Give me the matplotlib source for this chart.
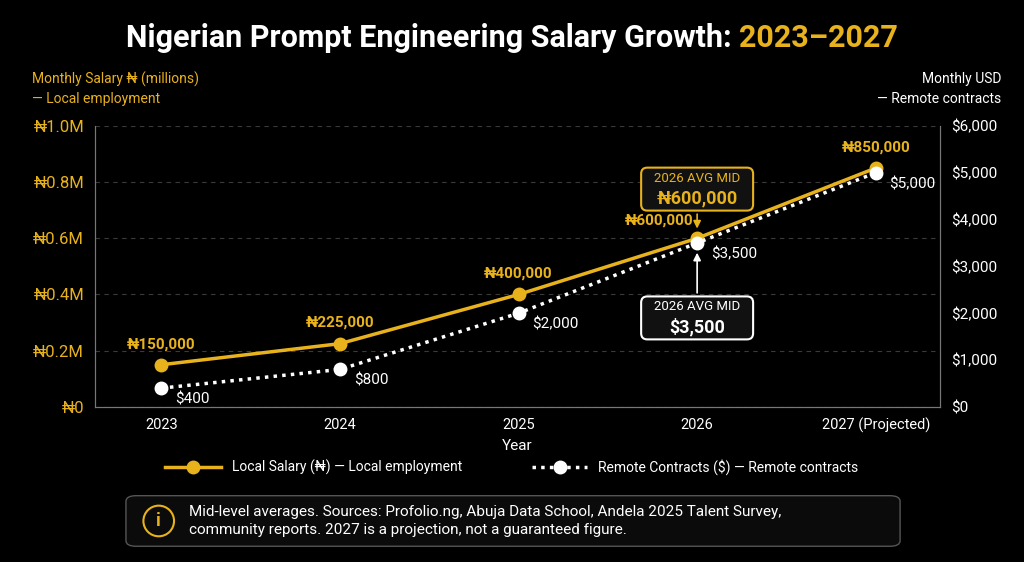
import matplotlib
matplotlib.use("Agg")
import matplotlib.pyplot as plt
from matplotlib.patches import FancyBboxPatch

plt.rcParams['font.family'] = ['Roboto', 'DejaVu Sans']

years = ["2023", "2024", "2025", "2026", "2027 (Projected)"]
local_ngn_m = [0.15, 0.225, 0.40, 0.60, 0.85]
local_labels = ["₦150,000", "₦225,000", "₦400,000", "₦600,000", "₦850,000"]
remote_usd = [400, 800, 2000, 3500, 5000]
remote_labels = ["$400", "$800", "$2,000", "$3,500", "$5,000"]
left_ticks = [0, 0.2, 0.4, 0.6, 0.8, 1.0]
left_tick_labels = ["₦0", "₦0.2M", "₦0.4M", "₦0.6M", "₦0.8M", "₦1.0M"]
right_ticks = [0, 1000, 2000, 3000, 4000, 5000, 6000]
right_tick_labels = ["$0", "$1,000", "$2,000", "$3,000", "$4,000", "$5,000", "$6,000"]

GOLD = "#E8B21C"
BG = "#000000"
W = "#FFFFFF"

fig = plt.figure(figsize=(10.24, 5.62), dpi=100, facecolor=BG)
ax = fig.add_axes([0.093, 0.276, 0.825, 0.5])
ax.set_facecolor(BG)
ax2 = ax.twinx()
x = list(range(len(years)))

ax.set_xlim(-0.37, 4.36)
ax.set_ylim(0, 1.0)
ax2.set_ylim(0, 6000)
ax.set_yticks(left_ticks)
ax.set_yticklabels(left_tick_labels, color=GOLD, fontsize=12)
ax2.set_yticks(right_ticks)
ax2.set_yticklabels(right_tick_labels, color=W, fontsize=11)
ax.set_xticks(x)
ax.set_xticklabels(years, color=W, fontsize=10.5)
ax.grid(axis='y', color="#3a3a3a", linestyle=(0, (4, 4)), linewidth=0.8)
for a in (ax, ax2):
    for s in a.spines.values():
        s.set_color("#777777")
    a.spines['top'].set_visible(False)
    a.tick_params(length=0, pad=8)
ax.set_xlabel("Year", color=W, fontsize=11, labelpad=4)

l1, = ax.plot(x, local_ngn_m, color=GOLD, lw=2.5, marker='o', ms=9, zorder=5,
              label="Local Salary (₦) — Local employment")
l2, = ax2.plot(x, remote_usd, color=W, lw=2.5, ls=(0, (1, 1.5)), marker='o', ms=9,
               zorder=5, label="Remote Contracts ($) — Remote contracts")

for i, (v, t) in enumerate(zip(local_ngn_m, local_labels)):
    if i == 3:
        ax.annotate(t, (i, v), xytext=(-3, 10), textcoords='offset points',
                    ha='right', color=GOLD, fontsize=11, fontweight='bold')
    else:
        ax.annotate(t, (i, v), xytext=(0, 12), textcoords='offset points',
                    ha='center', color=GOLD, fontsize=11, fontweight='bold')
for i, (v, t) in enumerate(zip(remote_usd, remote_labels)):
    ax2.annotate(t, (i, v), xytext=(10, -8), textcoords='offset points',
                 ha='left', va='center', color=W, fontsize=11)

# callouts: box from a transparent placeholder, then two visible lines inside
def callout(a, xy, xytext, small, big, color):
    a.annotate(small + "\n" + small, xy, xytext=xytext, ha='center', va='center',
               color=(0, 0, 0, 0), fontsize=11, linespacing=1.25,
               bbox=dict(boxstyle="round,pad=0.4", fc="#111", ec=color, lw=1.5),
               arrowprops=dict(arrowstyle="-|>", color=color, lw=1.2, shrinkB=7))
    a.annotate(small, xytext, xytext=(0, 8), textcoords='offset points',
               ha='center', va='center', color=color, fontsize=9.5)
    a.annotate(big, xytext, xytext=(0, -7), textcoords='offset points',
               ha='center', va='center', color=color, fontsize=13, fontweight='bold')

callout(ax, (3, local_ngn_m[3]), (3, 0.775), "2026 AVG MID", local_labels[3], GOLD)
callout(ax2, (3, remote_usd[3]), (3, 1900), "2026 AVG MID", remote_labels[3], W)

# axis titles
fig.text(0.031, 0.842, "Monthly Salary ₦ (millions)\n— Local employment", color=GOLD,
         fontsize=10, va='center', ha='left', linespacing=1.5)
fig.text(0.978, 0.842, "Monthly USD\n— Remote contracts", color=W,
         fontsize=10, va='center', ha='right', linespacing=1.5)

# title
t1 = fig.text(0.5, 0.933, "Nigerian Prompt Engineering Salary Growth: ", color=W,
              fontsize=22, fontweight='bold', ha='right', va='center')
t2 = fig.text(0.5, 0.933, "2023–2027", color=GOLD, fontsize=22, fontweight='bold',
              ha='left', va='center')
fig.canvas.draw()
r = fig.canvas.get_renderer()
w1 = t1.get_window_extent(r).width / fig.bbox.width
w2 = t2.get_window_extent(r).width / fig.bbox.width
xs = 0.5 + (w1 - w2) / 2
t1.set_x(xs)
t2.set_x(xs)

fig.legend(handles=[l1, l2], loc='center', bbox_to_anchor=(0.5, 0.169), ncol=2,
           frameon=False, fontsize=10, labelcolor=W, columnspacing=5, handlelength=4)

# footnote
box = FancyBboxPatch((0.123, 0.028), 0.756, 0.09, boxstyle="round,pad=0,rounding_size=0.01",
                     transform=fig.transFigure, fc="#0b0b0b", ec="#555555", lw=1)
fig.patches.append(box)
fig.text(0.155, 0.073, "i", color=GOLD, fontsize=13, fontweight='bold', ha='center', va='center',
         bbox=dict(boxstyle="circle,pad=0.35", fc="none", ec=GOLD, lw=1.5))
fig.text(0.185, 0.073, "Mid-level averages. Sources: Profolio.ng, Abuja Data School, Andela 2025 Talent Survey,\ncommunity reports. 2027 is a projection, not a guaranteed figure.",
         color=W, fontsize=11, ha='left', va='center', linespacing=1.3)

fig.savefig("out.png", dpi=100, facecolor=BG)
